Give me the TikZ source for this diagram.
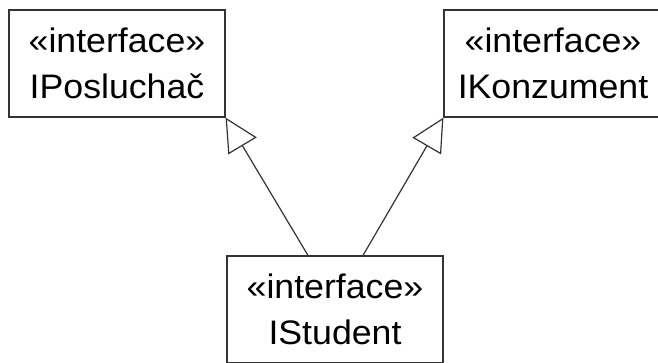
\documentclass[tikz,border=0pt]{standalone}
\usepackage{fontspec}
\usetikzlibrary{arrows.meta,positioning}
\newfontfamily\umlfont[FakeStretch=1.05]{Liberation Sans}
\definecolor{umlline}{HTML}{333333}
\tikzset{ifacebox/.style={draw=umlline,line width=1.2pt,fill=white,align=center,font=\umlfont\fontsize{34}{46}\selectfont,minimum width=216pt,minimum height=107pt,inner sep=0pt},realizarr/.style={-{Triangle[open,length=33pt,width=33pt]},line width=1.2pt,draw=umlline}}
\begin{document}
\begin{tikzpicture}[x=1pt,y=-1pt]
\useasboundingbox (0,0) rectangle (658,363);
\node[ifacebox] (posl) at (117,63.5) {«interface»\\IPosluchač};
\node[ifacebox,minimum width=218pt] (konz) at (553,63.5) {«interface»\\IKonzument};
\node[ifacebox] (stud) at (335,309.5) {«interface»\\IStudent};
\draw[realizarr] ([xshift=-27pt]stud.north)--(posl.south east);
\draw[realizarr] ([xshift=28pt]stud.north)--(konz.south west);
\end{tikzpicture}
\end{document}
